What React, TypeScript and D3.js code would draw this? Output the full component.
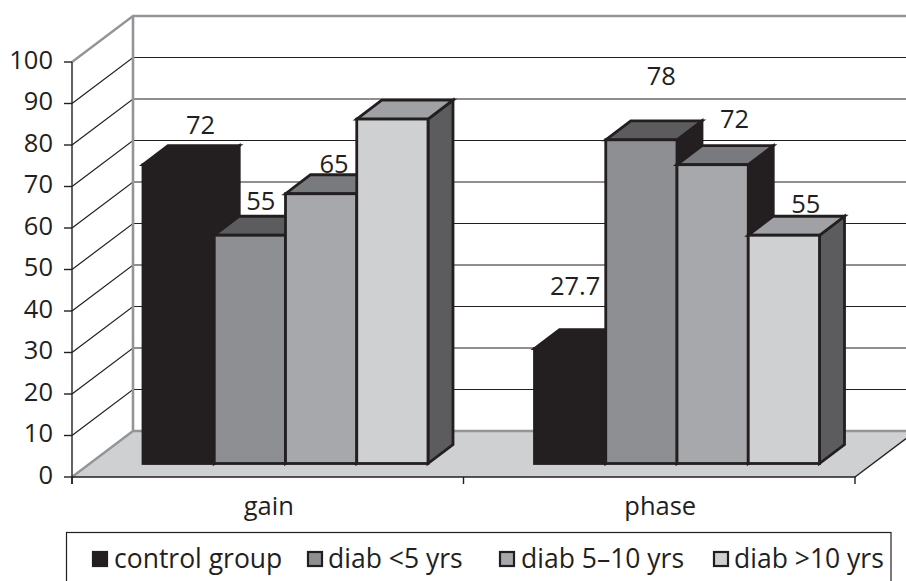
import React from "react";
import * as d3 from "d3";

const categories = ["gain", "phase"];
const seriesNames = ["control group", "diab <5 yrs", "diab 5–10 yrs", "diab >10 yrs"];
const controlValues = [72, 27.7];
const diabUnder5Values = [55, 78];
const diab5to10Values = [65, 72];
const diabOver10Values = [83, 55];
const yTicks = [0, 10, 20, 30, 40, 50, 60, 70, 80, 90, 100];

// Printed values; the tallest "gain" column carries no label.
const gainLabels = ["72", "55", "65", null];
const phaseLabels = ["27.7", "78", "72", "55"];
// Hand placement of the labels relative to each column's top centre.
const gainNudges = [[22, -31], [11, -25], [13, -21], [0, 0]];
const phaseNudges = [[5, -54], [20, -55], [22, -37], [22, -22]];

const frontFill = ["#231f20", "#8e8f92", "#a7a8ab", "#cfd0d2"];
const topFill = ["#231f20", "#5c5c5e", "#797a7d", "#a0a1a4"];
const sideFill = ["#231f20", "#231f20", "#231f20", "#5c5c5e"];
const INK = "#231f20";
const WALL = "#949598";
const FONT = "'Open Sans', 'Noto Sans', sans-serif";
const TEXT_SIZE = 25.5;
const LEGEND_SIZE = 26.5;

const W = 906;
const H = 581;
const axisX = 72;
const axisEnd = 855;
const y0 = 477;
const y100 = 62;
// Oblique offset of the back wall and of a column's depth.
const wallDX = 61;
const wallDY = -46;
const depthDX = 25;
const depthDY = -19;
const barBaseLift = 13.5;
const groupInset = 71;
const groupWidth = 285;

export default function App() {
  const y = d3.scaleLinear().domain([0, 100]).range([y0, y100]);
  const x0 = d3.scaleBand().domain(categories).range([axisX, axisEnd]);
  const x1 = d3.scaleBand().domain(seriesNames).range([0, groupWidth]);
  const line = d3.line();
  const poly = (pts: [number, number][]) => line(pts) + "Z";
  const columns = [controlValues, diabUnder5Values, diab5to10Values, diabOver10Values];
  const nudges = [gainNudges, phaseNudges];
  const labels = [gainLabels, phaseLabels];
  const baseY = y0 - barBaseLift;
  const swatchX = [93, 308, 500, 714];
  const legendTextX = [114, 328, 521, 734];

  return (
    <svg
      width={W}
      height={H}
      viewBox={`0 0 ${W} ${H}`}
      style={{ position: "absolute", left: 0, top: 0, display: "block", background: "#fff" }}
      fontFamily={FONT}
    >
      {/* floor */}
      <path
        d={poly([
          [axisX, y0],
          [axisX + wallDX, y0 + wallDY],
          [axisEnd + wallDX, y0 + wallDY],
          [axisEnd, y0],
        ])}
        fill="#cfd0d2"
      />
      {/* gridlines on the side and back walls */}
      {yTicks.slice(1, -1).map((t) => (
        <path
          key={t}
          d={line([
            [axisX, y(t)],
            [axisX + wallDX, y(t) + wallDY],
            [W, y(t) + wallDY],
          ]) as string}
          fill="none"
          stroke={INK}
          strokeWidth={1.2}
        />
      ))}
      {/* wall frame */}
      <path
        d={line([
          [axisX, y(100)],
          [axisX + wallDX, y(100) + wallDY],
          [W, y(100) + wallDY],
        ]) as string}
        fill="none"
        stroke={WALL}
        strokeWidth={2.4}
      />
      <path
        d={line([
          [axisX, y0],
          [axisX + wallDX, y0 + wallDY],
          [W, y0 + wallDY],
        ]) as string}
        fill="none"
        stroke={WALL}
        strokeWidth={2.4}
      />
      <line x1={axisX + wallDX} x2={axisX + wallDX} y1={y(100) + wallDY} y2={y0 + wallDY} stroke={WALL} strokeWidth={2.6} />
      {/* axes */}
      <line x1={axisX} x2={axisX} y1={y(100)} y2={y0 + 7} stroke={INK} strokeWidth={1.4} />
      <line x1={axisX} x2={axisEnd} y1={y0} y2={y0} stroke={INK} strokeWidth={1.6} />
      <line x1={axisEnd} x2={axisEnd + wallDX} y1={y0} y2={y0 + wallDY} stroke={INK} strokeWidth={1.4} />
      {yTicks.map((t) => (
        <g key={t}>
          <line x1={axisX - 8} x2={axisX} y1={y(t)} y2={y(t)} stroke={INK} strokeWidth={1.4} />
          <text x={axisX - 19} y={y(t) + 6.5} textAnchor="end" fontSize={TEXT_SIZE} fill={INK}>
            {t}
          </text>
        </g>
      ))}
      {[...categories.map((c) => x0(c) as number), axisEnd].map((tx, i) => (
        <line key={i} x1={tx} x2={tx} y1={y0} y2={y0 + 7} stroke={INK} strokeWidth={1.4} />
      ))}
      {categories.map((c) => (
        <text
          key={c}
          x={(x0(c) as number) + x0.bandwidth() / 2 + 1}
          y={515}
          textAnchor="middle"
          fontSize={TEXT_SIZE}
          fill={INK}
        >
          {c}
        </text>
      ))}
      {/* columns, drawn left to right so each overlaps its neighbour's side */}
      {categories.map((c, ci) =>
        seriesNames.map((s, si) => {
          const left = (x0(c) as number) + groupInset + (x1(s) as number);
          const right = left + x1.bandwidth();
          const v = columns[si][ci];
          const top = baseY - (y0 - y(v));
          return (
            <g key={c + s} stroke={INK} strokeWidth={2.8} strokeLinejoin="miter">
              <path
                d={poly([
                  [right, top],
                  [right + depthDX, top + depthDY],
                  [right + depthDX, baseY + depthDY],
                  [right, baseY],
                ])}
                fill={sideFill[si]}
              />
              <path
                d={poly([
                  [left, top],
                  [left + depthDX, top + depthDY],
                  [right + depthDX, top + depthDY],
                  [right, top],
                ])}
                fill={topFill[si]}
              />
              <rect x={left} y={top} width={x1.bandwidth()} height={baseY - top} fill={frontFill[si]} />
            </g>
          );
        })
      )}
      {/* value labels */}
      {categories.map((c, ci) =>
        seriesNames.map((s, si) => {
          const text = labels[ci][si];
          if (text === null) return null;
          const left = (x0(c) as number) + groupInset + (x1(s) as number);
          const v = columns[si][ci];
          const top = baseY - (y0 - y(v));
          const [dx, dy] = nudges[ci][si];
          return (
            <text
              key={c + s + "label"}
              x={left + x1.bandwidth() / 2 + dx}
              y={top + dy}
              textAnchor="middle"
              fontSize={TEXT_SIZE}
              fill={INK}
            >
              {text}
            </text>
          );
        })
      )}
      {/* legend; its frame runs off the lower edge */}
      <rect x={66.5} y={532.5} width={824.5} height={70} fill="#fff" stroke={INK} strokeWidth={1.2} />
      {seriesNames.map((s, i) => (
        <g key={s}>
          <rect
            x={swatchX[i]}
            y={552}
            width={14}
            height={14}
            fill={frontFill[i]}
            stroke={INK}
            strokeWidth={2.2}
          />
          <text x={legendTextX[i]} y={568} fontSize={LEGEND_SIZE} fill={INK}>
            {s}
          </text>
        </g>
      ))}
    </svg>
  );
}
